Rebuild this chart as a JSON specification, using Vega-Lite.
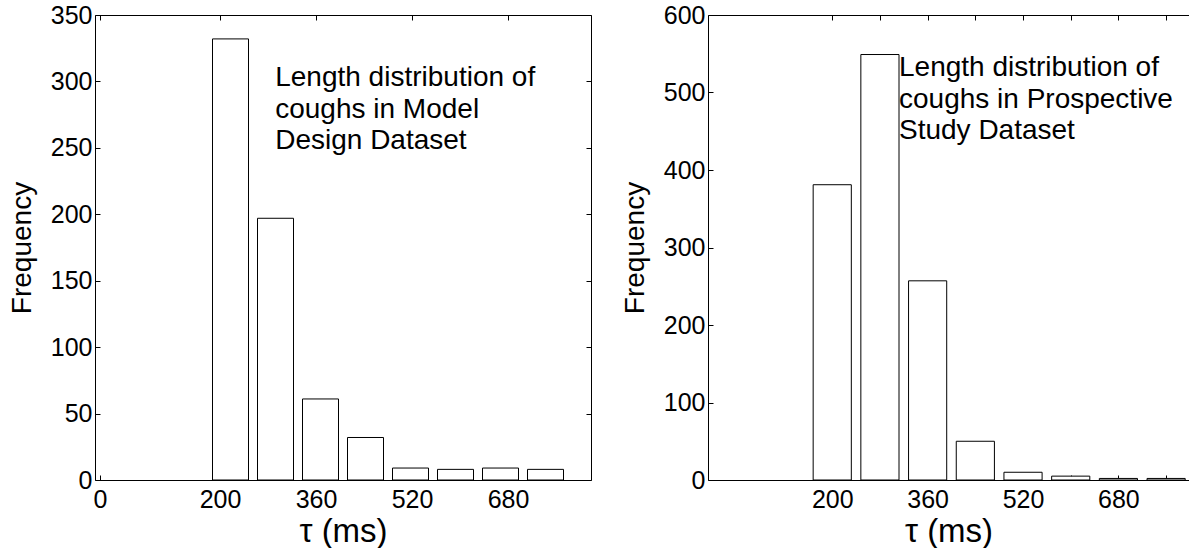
{
  "$schema": "https://vega.github.io/schema/vega-lite/v6.json",
  "padding": {"left": 8, "top": 3, "right": 0, "bottom": 0},
  "background": "white",
  "spacing": 29,
  "config": {
    "view": {"stroke": null},
    "font": "Liberation Sans",
    "axis": {
      "grid": false,
      "domainColor": "black",
      "domainWidth": 1,
      "tickColor": "black",
      "tickSize": -5,
      "labelColor": "black",
      "labelFont": "Liberation Sans",
      "labelFontSize": 25,
      "titleFont": "Liberation Sans",
      "titleFontWeight": "normal",
      "titleColor": "black"
    }
  },
  "hconcat": [
    {
      "width": 496,
      "height": 465,
      "layer": [
        {
          "data": {"values": [
            {"lo": 187.5, "hi": 247.5, "count": 332},
            {"lo": 262.5, "hi": 322.5, "count": 197},
            {"lo": 337.5, "hi": 397.5, "count": 61},
            {"lo": 412.5, "hi": 472.5, "count": 32},
            {"lo": 487.5, "hi": 547.5, "count": 9},
            {"lo": 562.5, "hi": 622.5, "count": 8},
            {"lo": 637.5, "hi": 697.5, "count": 9},
            {"lo": 712.5, "hi": 772.5, "count": 8}
          ]},
          "mark": {"type": "bar", "fill": "white", "stroke": "black", "strokeWidth": 1, "clip": true, "orient": "vertical"},
          "encoding": {
            "x": {"field": "lo", "type": "quantitative",
                  "scale": {"domain": [0, 810], "nice": false, "zero": false},
                  "axis": {"orient": "bottom", "values": [0, 200, 360, 520, 680], "labelPadding": 12, "title": "τ (ms)", "titleFontSize": 33, "titlePadding": 3}},
            "x2": {"field": "hi"},
            "y": {"field": "count", "type": "quantitative",
                  "scale": {"domain": [0, 350], "nice": false},
                  "axis": {"orient": "left", "values": [0, 50, 100, 150, 200, 250, 300, 350], "labelPadding": 8, "title": "Frequency", "titleFontSize": 28, "titlePadding": 14}},
            "y2": {"datum": 0}
          }
        },
        {
          "data": {"values": [
            {"tx": 292, "ty": 296.5, "label": "Length distribution of\ncoughs in Model\nDesign Dataset"}
          ]},
          "mark": {"type": "text", "align": "left", "baseline": "alphabetic", "fontSize": 28, "font": "Liberation Sans", "lineBreak": "\n", "lineHeight": 31.5, "color": "black"},
          "encoding": {
            "x": {"field": "tx", "type": "quantitative",
                  "axis": {"orient": "top", "values": [0, 200, 360, 520, 680], "labels": false, "title": null}},
            "y": {"field": "ty", "type": "quantitative",
                  "axis": {"orient": "right", "values": [0, 50, 100, 150, 200, 250, 300, 350], "labels": false, "title": null}},
            "text": {"field": "label"}
          }
        }
      ],
      "resolve": {"axis": {"x": "independent", "y": "independent"}}
    },
    {
      "width": 481,
      "height": 465,
      "layer": [
        {
          "data": {"values": [
            {"lo": 168, "hi": 232, "count": 381},
            {"lo": 248, "hi": 312, "count": 549},
            {"lo": 328, "hi": 392, "count": 257},
            {"lo": 408, "hi": 472, "count": 50},
            {"lo": 488, "hi": 552, "count": 10},
            {"lo": 568, "hi": 632, "count": 5},
            {"lo": 648, "hi": 712, "count": 2},
            {"lo": 728, "hi": 792, "count": 2}
          ]},
          "mark": {"type": "bar", "fill": "white", "stroke": "black", "strokeWidth": 1, "clip": true, "orient": "vertical"},
          "encoding": {
            "x": {"field": "lo", "type": "quantitative",
                  "scale": {"domain": [0, 790], "nice": false, "zero": false},
                  "axis": {"orient": "bottom", "values": [200, 280, 360, 440, 520, 600, 680, 760], "labelExpr": "indexof([200, 360, 520, 680], datum.value) >= 0 ? datum.label : ''", "labelPadding": 12, "title": "τ (ms)", "titleFontSize": 33, "titlePadding": 3}},
            "x2": {"field": "hi"},
            "y": {"field": "count", "type": "quantitative",
                  "scale": {"domain": [0, 600], "nice": false},
                  "axis": {"orient": "left", "values": [0, 100, 200, 300, 400, 500, 600], "labelPadding": 8, "title": "Frequency", "titleFontSize": 28, "titlePadding": 14}},
            "y2": {"datum": 0}
          }
        },
        {
          "data": {"values": [
            {"tx": 312, "ty": 521, "label": "Length distribution of\ncoughs in Prospective\nStudy Dataset"}
          ]},
          "mark": {"type": "text", "align": "left", "baseline": "alphabetic", "fontSize": 28, "font": "Liberation Sans", "lineBreak": "\n", "lineHeight": 31.5, "color": "black"},
          "encoding": {
            "x": {"field": "tx", "type": "quantitative",
                  "axis": {"orient": "top", "values": [200, 280, 360, 440, 520, 600, 680, 760], "labels": false, "title": null}},
            "y": {"field": "ty", "type": "quantitative"},
            "text": {"field": "label"}
          }
        }
      ],
      "resolve": {"axis": {"x": "independent"}}
    }
  ]
}
